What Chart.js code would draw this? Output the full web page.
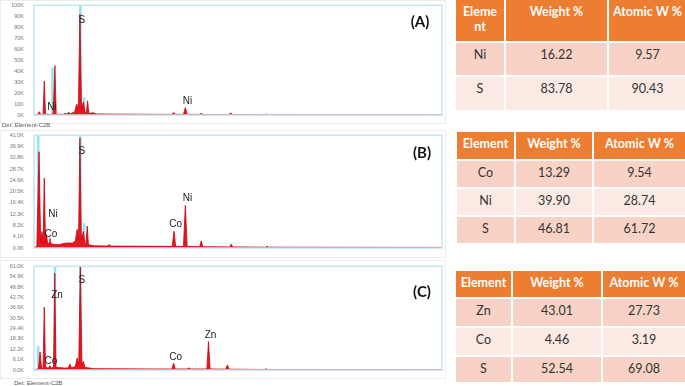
<!DOCTYPE html>
<html lang="en">
<head>
    <meta charset="UTF-8">
    <title>EDS spectra</title>
    <script src="https://cdn.jsdelivr.net/npm/chart.js"></script>
    <style>
        body { margin: 0; background: #fff; width: 685px; height: 386px; position: relative; overflow: hidden; font-family: "Liberation Sans", Arial, sans-serif; }
        canvas { position: absolute; left: 0; }
        .frame { position: absolute; left: 0; width: 446px; border: 1px solid #ececec; box-sizing: border-box; }
        .det { position: absolute; font-size: 6px; color: #555; }
        .tag { position: absolute; font-family: Lato, sans-serif; font-weight: bold; font-size: 15px; color: #111; transform: translate(-50%, -50%); }
        .tbl { position: absolute; display: grid; gap: 2px; background: #fff; font-family: Lato, sans-serif; font-size: 12.5px; }
        .tbl div { text-align: center; padding: 4px 1px 0 1px; box-sizing: border-box; color: #333; word-break: break-all; line-height: 15px; }
        .tbl div:nth-child(3n+1) { padding-left: 4px; padding-right: 4px; }
        .tbl .hd { background: #ED7D31; color: #fff; font-weight: bold; }
        .tbl .r1 { background: #F8D3C5; }
        .tbl .r2 { background: #FBE9E4; }
    </style>
</head>
<body>
    <div class="frame" style="top:0;height:124px"></div>
    <div class="frame" style="top:130px;height:128px"></div>
    <div class="frame" style="top:260px;height:119px"></div>

    <canvas id="chartA" width="446" height="124" style="top:0"></canvas>
    <canvas id="chartB" width="446" height="127" style="top:130px"></canvas>
    <canvas id="chartC" width="446" height="118" style="top:261px"></canvas>

    <div class="det" style="left:2px;top:122px">Det: Element-C2B</div>
    <div class="det" style="left:14px;top:380px">Det: Element-C2B</div>

    <div class="tag" style="left:420px;top:21px">(A)</div>
    <div class="tag" style="left:422px;top:152px">(B)</div>
    <div class="tag" style="left:422px;top:291px">(C)</div>

    <div id="tableA" class="tbl"></div>
    <div id="tableB" class="tbl"></div>
    <div id="tableC" class="tbl"></div>

    <script>
        // energy axis (keV), shared by all three spectra
        const xTicks = [0, 2, 4, 6, 8, 10, 12, 14, 16, 18];

        // (A) NiS  -- counts in K
        const energyA = [0, 0.18, 0.26, 0.34, 0.45, 0.51, 0.57, 0.95, 1.04, 1.10, 1.45, 1.55, 1.62, 1.72, 1.80, 2.02, 2.12, 2.20, 2.28, 2.36, 2.45, 2.53, 2.60, 2.66, 2.72, 2.93, 3.1, 4.0, 6.0, 6.85, 6.93, 7.0, 7.42, 7.51, 7.60, 8.22, 8.30, 8.38, 9.68, 9.76, 9.84, 11.45, 11.52, 11.6, 20.25];
        const countsA = [0.2, 0.3, 3, 0.5, 0.5, 31, 0.6, 0.6, 45, 0.6, 0.6, 1.5, 0.8, 2.5, 1.0, 3, 10, 5, 92, 5, 12, 3, 1.5, 13, 1.5, 2, 1, 0.8, 0.6, 0.6, 2.2, 0.6, 0.6, 6.6, 0.6, 0.5, 1.5, 0.5, 0.4, 2, 0.4, 0.3, 0.8, 0.3, 0.2];
        const lineEnergyA = [0.92, 2.30, 2.49];
        const lineTopA = [43, 100, 16];
        const yTicksA = [0, 10, 20, 30, 40, 50, 60, 70, 80, 90, 100];
        const yLabelsA = ['0K', '10K', '20K', '30K', '40K', '50K', '60K', '70K', '80K', '90K', '100K'];
        const peakNamesA = ['Ni', 'S', 'Ni'];
        const peakEnergyA = [0.89, 2.38, 7.62];
        const peakCountA = [7.2, 86.5, 12.6];

        // (B) Co-Ni-S
        const energyB = [0, 0.14, 0.25, 0.33, 0.40, 0.45, 0.51, 0.57, 0.62, 0.68, 0.75, 0.79, 0.85, 1.2, 1.6, 1.9, 2.05, 2.14, 2.21, 2.28, 2.35, 2.45, 2.52, 2.58, 2.64, 2.70, 3.0, 3.68, 3.73, 3.8, 6.86, 6.95, 7.03, 7.42, 7.51, 7.60, 8.22, 8.30, 8.38, 9.72, 9.79, 9.86, 11.5, 11.57, 11.64, 20.25];
        const countsB = [0.3, 0.5, 35, 2, 6, 1.5, 25.4, 2, 5, 1.5, 2, 3.5, 1.5, 1.2, 1.8, 1.8, 2.5, 6.8, 3, 40, 3, 6, 2, 1.5, 8, 1.2, 0.8, 0.7, 1.3, 0.7, 0.6, 6.1, 0.6, 0.6, 15.5, 0.6, 0.5, 2.6, 0.5, 0.4, 1.4, 0.4, 0.3, 0.6, 0.3, 0.2];
        const lineEnergyB = [0.21, 2.30, 2.48];
        const lineTopB = [41, 41, 9];
        const yTicksB = [0, 4.1, 8.2, 12.3, 16.4, 20.5, 24.6, 28.7, 32.8, 36.9, 41.0];
        const yLabelsB = ['0.0K', '4.1K', '8.2K', '12.3K', '16.4K', '20.5K', '24.6K', '28.7K', '32.8K', '36.9K', '41.0K'];
        const peakNamesB = ['Ni', 'Co', 'S', 'Co', 'Ni'];
        const peakEnergyB = [0.94, 0.84, 2.38, 7.03, 7.62];
        const peakCountB = [12.2, 5.0, 35.2, 8.6, 18.0];

        // (C) Zn-Co-S
        const energyC = [0, 0.22, 0.30, 0.38, 0.45, 0.51, 0.57, 0.72, 0.79, 0.86, 0.97, 1.03, 1.09, 1.5, 1.70, 1.78, 1.86, 2.05, 2.14, 2.22, 2.30, 2.38, 2.45, 2.53, 2.66, 3.0, 6.0, 6.85, 6.93, 7.01, 7.6, 7.69, 7.78, 8.58, 8.66, 8.74, 9.52, 9.60, 9.68, 11.45, 11.52, 11.6, 20.25];
        const countsC = [0.3, 0.5, 10.6, 1, 1, 37, 1.5, 1.2, 2.5, 1.2, 1.5, 57, 1.5, 1.2, 1.2, 3.5, 1.2, 2, 7, 3, 61, 3, 5, 1.5, 1.3, 0.8, 0.6, 0.6, 4, 0.6, 0.6, 1.2, 0.6, 0.6, 16.7, 0.6, 0.5, 3, 0.5, 0.3, 0.8, 0.3, 0.2];
        const lineEnergyC = [0.21, 1.04, 2.30];
        const lineTopC = [14, 61, 61];
        const yTicksC = [0, 6.1, 12.2, 18.3, 24.4, 30.5, 36.6, 42.7, 48.8, 54.9, 61.0];
        const yLabelsC = ['0.0K', '6.1K', '12.2K', '18.3K', '24.4K', '30.5K', '36.6K', '42.7K', '48.8K', '54.9K', '61.0K'];
        const peakNamesC = ['Zn', 'Co', 'S', 'Co', 'Zn'];
        const peakEnergyC = [1.14, 0.84, 2.38, 7.03, 8.76];
        const peakCountC = [44.2, 5.2, 52.9, 7.6, 20.3];

        // composition tables
        const tableHeader = ['Element', 'Weight %', 'Atomic W %'];
        const elementsA = ['Ni', 'S'];
        const weightA = ['16.22', '83.78'];
        const atomicA = ['9.57', '90.43'];
        const elementsB = ['Co', 'Ni', 'S'];
        const weightB = ['13.29', '39.90', '46.81'];
        const atomicB = ['9.54', '28.74', '61.72'];
        const elementsC = ['Zn', 'Co', 'S'];
        const weightC = ['43.01', '4.46', '52.54'];
        const atomicC = ['27.73', '3.19', '69.08'];

        // plot frame + element labels
        const spectrumDecor = {
            id: 'spectrumDecor',
            afterDraw(chart, args, opts) {
                const { ctx, chartArea: a, scales } = chart;
                ctx.save();
                ctx.strokeStyle = '#c4e4ef';
                ctx.lineWidth = 1.5;
                ctx.strokeRect(a.left, a.top, a.right - a.left, a.bottom - a.top);
                ctx.fillStyle = '#222';
                ctx.font = '10px "Liberation Sans", Arial, sans-serif';
                ctx.textAlign = 'center';
                ctx.textBaseline = 'middle';
                opts.names.forEach((n, i) => {
                    ctx.fillText(n, scales.x.getPixelForValue(opts.energy[i]), scales.y.getPixelForValue(opts.count[i]));
                });
                ctx.restore();
            }
        };

        function drawSpectrum(id, energy, counts, lineE, lineTop, yTicks, yLabels, names, peakE, peakC) {
            const points = energy.map((e, i) => ({ x: e, y: counts[i] }));
            const markers = [];
            lineE.forEach((e, i) => {
                markers.push({ x: e, y: 0 }, { x: e, y: lineTop[i] }, { x: e, y: null });
            });
            const yMax = yTicks[yTicks.length - 1];
            const tickFont = { size: 5.5, family: '"Liberation Sans", Arial, sans-serif' };

            new Chart(document.getElementById(id), {
                type: 'line',
                data: {
                    datasets: [
                        { data: points, borderColor: '#c8000a', borderWidth: 0.8, backgroundColor: '#ea1620', fill: 'origin', pointRadius: 0, tension: 0, order: 1 },
                        { data: markers, borderColor: '#8ee6f2', borderWidth: 2.5, pointRadius: 0, spanGaps: false, fill: false, order: 2 }
                    ]
                },
                options: {
                    responsive: false,
                    animation: false,
                    devicePixelRatio: 1,
                    layout: { padding: { top: 4, right: 4, left: 0, bottom: 0 } },
                    plugins: {
                        legend: { display: false },
                        tooltip: { enabled: false },
                        spectrumDecor: { names: names, energy: peakE, count: peakC }
                    },
                    scales: {
                        x: {
                            type: 'linear', min: 0, max: 20.25,
                            grid: { display: false }, border: { display: false },
                            afterBuildTicks: s => { s.ticks = xTicks.map(v => ({ value: v })); },
                            afterFit: s => { s.height = 9; },
                            ticks: { autoSkip: false, maxRotation: 0, padding: 1, color: '#777', font: tickFont, callback: v => v.toFixed(1) }
                        },
                        y: {
                            min: 0, max: yMax,
                            grid: { display: false }, border: { display: false },
                            afterBuildTicks: s => { s.ticks = yTicks.map(v => ({ value: v })); },
                            afterFit: s => { s.width = 34; },
                            ticks: { autoSkip: false, padding: 2, color: '#777', font: tickFont, callback: (v, i) => yLabels[i] }
                        }
                    }
                },
                plugins: [spectrumDecor]
            });
        }

        drawSpectrum('chartA', energyA, countsA, lineEnergyA, lineTopA, yTicksA, yLabelsA, peakNamesA, peakEnergyA, peakCountA);
        drawSpectrum('chartB', energyB, countsB, lineEnergyB, lineTopB, yTicksB, yLabelsB, peakNamesB, peakEnergyB, peakCountB);
        drawSpectrum('chartC', energyC, countsC, lineEnergyC, lineTopC, yTicksC, yLabelsC, peakNamesC, peakEnergyC, peakCountC);

        function buildTable(id, left, top, widths, heights, elements, weight, atomic) {
            const el = document.getElementById(id);
            el.style.left = left + 'px';
            el.style.top = top + 'px';
            el.style.gridTemplateColumns = widths.map(w => w + 'px').join(' ');
            el.style.gridTemplateRows = heights.map(h => h + 'px').join(' ');
            let html = tableHeader.map(h => `<div class="hd">${h}</div>`).join('');
            elements.forEach((e, i) => {
                const cls = i % 2 === 0 ? 'r1' : 'r2';
                html += `<div class="${cls}">${e}</div><div class="${cls}">${weight[i]}</div><div class="${cls}">${atomic[i]}</div>`;
            });
            el.innerHTML = html;
        }

        buildTable('tableA', 456, 0, [48, 101, 77], [41, 32, 33], elementsA, weightA, atomicA);
        buildTable('tableB', 457, 132, [57, 76, 91], [27, 26, 26, 26], elementsB, weightB, atomicB);
        buildTable('tableC', 456, 271, [55, 88, 82], [26, 27, 27, 25], elementsC, weightC, atomicC);
    </script>
</body>
</html>
